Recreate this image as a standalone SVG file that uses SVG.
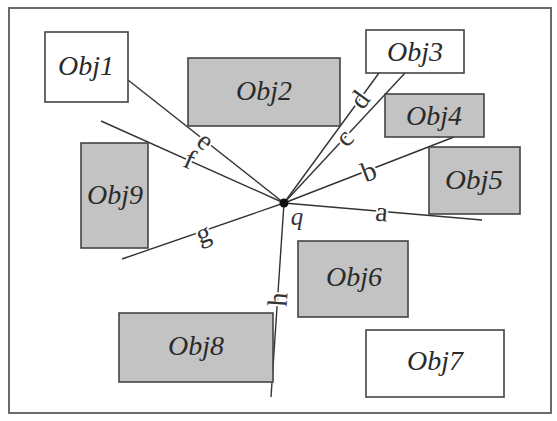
<svg xmlns="http://www.w3.org/2000/svg" width="557" height="421" viewBox="0 0 557 421">
<style>
.frame{fill:#fff;stroke:#6a6a6a;stroke-width:2}
.box{stroke:#444;stroke-width:1.6}
.white{fill:#fff}
.gray{fill:#c3c3c3}
.obj{font-family:"Liberation Serif","Times New Roman",serif;font-style:italic;font-size:28px;fill:#2a2a2a;text-anchor:middle}
.ln{stroke:#333;stroke-width:1.4;fill:none}
.lbl{font-family:"Liberation Serif","Times New Roman",serif;font-size:28px;fill:#333;text-anchor:middle;stroke:#fff;stroke-width:4;paint-order:stroke;stroke-linejoin:round}
</style>
<rect class="frame" x="9" y="8" width="542" height="405"/>
<g id="connectors">
<line class="ln" x1="128" y1="80" x2="284" y2="203"/>
<line class="ln" x1="101" y1="121" x2="284" y2="203"/>
<line class="ln" x1="379" y1="73" x2="284" y2="203"/>
<line class="ln" x1="405" y1="73" x2="284" y2="203"/>
<line class="ln" x1="454" y1="137" x2="284" y2="203"/>
<line class="ln" x1="284" y1="203" x2="482" y2="220"/>
<line class="ln" x1="284" y1="203" x2="122" y2="259"/>
<line class="ln" x1="284" y1="203" x2="271" y2="397"/>
<circle cx="284" cy="203" r="4.5" fill="#111"/>
<text class="lbl" transform="translate(200,148) rotate(38)">e</text>
<text class="lbl" transform="translate(186,168) rotate(24)">f</text>
<text class="lbl" transform="translate(367,105) rotate(-54)">d</text>
<text class="lbl" transform="translate(351,144) rotate(-47)">c</text>
<text class="lbl" transform="translate(372,180) rotate(-21)">b</text>
<text class="lbl" transform="translate(381,221) rotate(5)">a</text>
<text class="lbl" transform="translate(206,242) rotate(-19)">g</text>
<text class="lbl" transform="translate(287,300) rotate(-86)">h</text>
<text x="297" y="225" style="font-family:'Liberation Serif','Times New Roman',serif;font-style:italic;font-size:25px;fill:#333;text-anchor:middle">q</text>
</g>
<g id="obj1"><rect class="box white" x="45" y="32" width="83" height="70"/><text class="obj" x="86" y="75" textLength="56" lengthAdjust="spacingAndGlyphs">Obj1</text></g>
<g id="obj2"><rect class="box gray" x="188" y="58" width="152" height="68"/><text class="obj" x="264" y="100" textLength="56" lengthAdjust="spacingAndGlyphs">Obj2</text></g>
<g id="obj3"><rect class="box white" x="366" y="30" width="98" height="43"/><text class="obj" x="415" y="61" textLength="56" lengthAdjust="spacingAndGlyphs">Obj3</text></g>
<g id="obj4"><rect class="box gray" x="385" y="94" width="99" height="43"/><text class="obj" x="434" y="125" textLength="56" lengthAdjust="spacingAndGlyphs">Obj4</text></g>
<g id="obj5"><rect class="box gray" x="429" y="147" width="91" height="67"/><text class="obj" x="474" y="189" textLength="58" lengthAdjust="spacingAndGlyphs">Obj5</text></g>
<g id="obj9"><rect class="box gray" x="81" y="143" width="67" height="105"/><text class="obj" x="115" y="204" textLength="56" lengthAdjust="spacingAndGlyphs">Obj9</text></g>
<g id="obj6"><rect class="box gray" x="298" y="241" width="110" height="76"/><text class="obj" x="354" y="286" textLength="56" lengthAdjust="spacingAndGlyphs">Obj6</text></g>
<g id="obj7"><rect class="box white" x="366" y="330" width="138" height="67"/><text class="obj" x="435" y="370" textLength="56" lengthAdjust="spacingAndGlyphs">Obj7</text></g>
<g id="obj8"><rect class="box gray" x="119" y="313" width="154" height="69"/><text class="obj" x="196" y="355" textLength="56" lengthAdjust="spacingAndGlyphs">Obj8</text></g>
</svg>
